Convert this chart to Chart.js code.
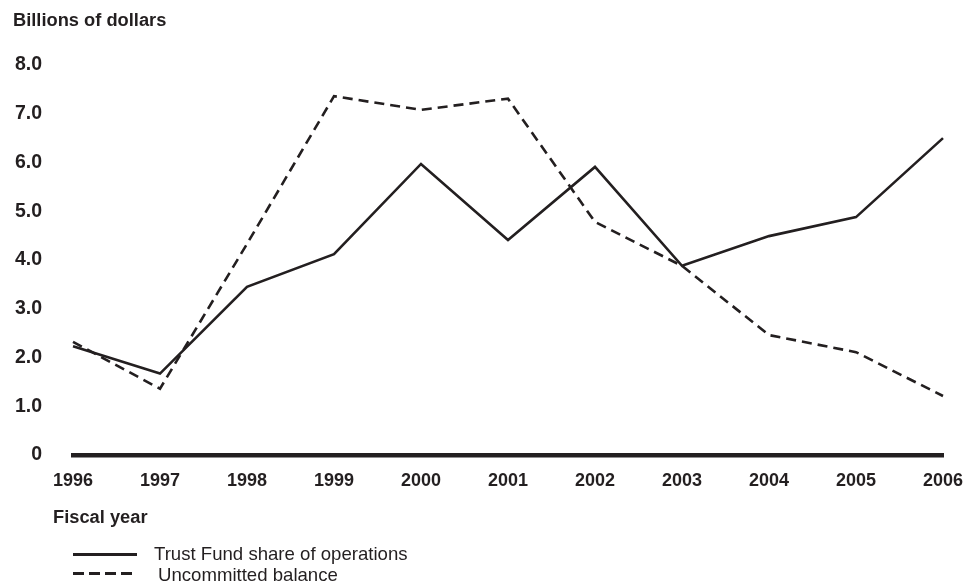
<!DOCTYPE html>
<html>
<head>
<meta charset="utf-8">
<script src="https://cdn.jsdelivr.net/npm/chart.js@4.4.1/dist/chart.umd.min.js"></script>
<style>
  html, body { margin: 0; padding: 0; background: #fff; }
  #wrap { position: relative; width: 966px; height: 582px; overflow: hidden; font-family: "Liberation Sans", Arial, sans-serif; color: #231f20; }
  #c { position: absolute; left: 0; top: 0; }
  .lbl { position: absolute; white-space: nowrap; line-height: 1; }
  .bold { font-weight: bold; font-size: 18.3px; }
  .leg { font-size: 18.6px; }
  .solid { position: absolute; height: 3px; background: #231f20; }
  .dash { position: absolute; height: 3px; background: repeating-linear-gradient(to right, #231f20 0 11px, transparent 11px 16px); }
</style>
</head>
<body>
<div id="wrap">
  <canvas id="c" width="966" height="582"></canvas>
  <div class="lbl bold" style="left:13px; top:11px;">Billions of dollars</div>
  <div class="lbl bold" style="left:53px; top:508px;">Fiscal year</div>
  <div class="solid" style="left:73px; top:553px; width:64px;"></div>
  <div class="lbl leg" style="left:154px; top:545px;">Trust Fund share of operations</div>
  <div class="dash" style="left:73px; top:572px; width:59px;"></div>
  <div class="lbl leg" style="left:158px; top:566px;">Uncommitted balance</div>
</div>
<script>
const years = ['1996', '1997', '1998', '1999', '2000', '2001', '2002', '2003', '2004', '2005', '2006'];
const trustFundShare = [2.23, 1.67, 3.45, 4.12, 5.97, 4.41, 5.91, 3.88, 4.49, 4.88, 6.5];
const uncommittedBalance = [2.32, 1.36, 4.33, 7.36, 7.08, 7.31, 4.78, 3.88, 2.46, 2.11, 1.21];
const yTickValues = [0, 1, 2, 3, 4, 5, 6, 7, 8];

const ink = '#231f20';
const xTickFont = { family: '"Liberation Sans", Arial, sans-serif', size: 18, weight: 'bold' };
const yTickFont = { family: '"Liberation Sans", Arial, sans-serif', size: 19.5, weight: 'bold' };

new Chart(document.getElementById('c'), {
  type: 'line',
  data: {
    labels: years,
    datasets: [
      {
        label: 'Trust Fund share of operations',
        data: trustFundShare,
        borderColor: ink,
        borderWidth: 2.6,
        pointRadius: 0,
        tension: 0,
        fill: false
      },
      {
        label: 'Uncommitted balance',
        data: uncommittedBalance,
        borderColor: ink,
        borderWidth: 2.6,
        borderDash: [10, 6],
        pointRadius: 0,
        tension: 0,
        fill: false
      }
    ]
  },
  options: {
    responsive: false,
    animation: false,
    layout: { padding: { left: 0, right: 23, top: 65, bottom: 0 } },
    plugins: { legend: { display: false }, tooltip: { enabled: false }, title: { display: false } },
    scales: {
      x: {
        type: 'category',
        offset: false,
        grid: { display: false, drawTicks: false },
        border: { display: true, width: 4.5, color: ink },
        ticks: { color: ink, font: xTickFont, padding: 15, maxRotation: 0, autoSkip: false },
        afterFit: (s) => { s.height = 127; s.paddingLeft = 0; s.paddingRight = 0; }
      },
      y: {
        min: 0,
        max: 8,
        grid: { display: false, drawTicks: false },
        border: { display: false },
        afterBuildTicks: (s) => { s.ticks = yTickValues.map(v => ({ value: v })); },
        ticks: {
          color: ink,
          font: yTickFont,
          padding: 31,
          callback: (v) => v === 0 ? '0' : Number(v).toFixed(1)
        },
        afterFit: (s) => { s.width = 73; s.paddingTop = 0; s.paddingBottom = 0; }
      }
    }
  }
});
</script>
</body>
</html>
